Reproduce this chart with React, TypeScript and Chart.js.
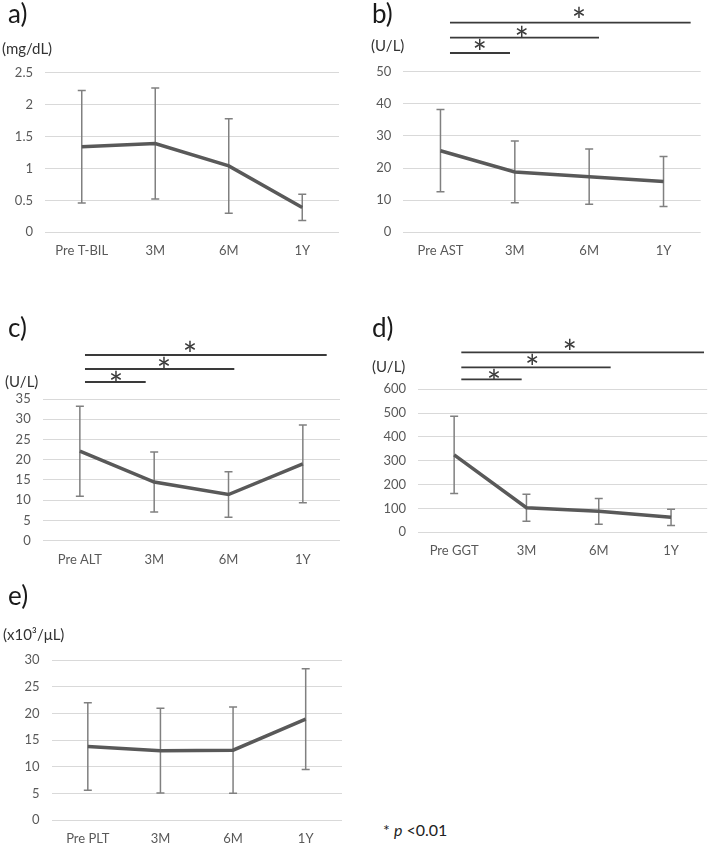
import React, { useEffect, useRef } from "react";
import { Chart, registerables } from "chart.js";

Chart.register(...registerables);

// ---------------- data ----------------
const TBIL_LABELS = ["Pre T-BIL", "3M", "6M", "1Y"];
const TBIL_MEAN = [1.34, 1.39, 1.04, 0.39];
const TBIL_SD = [0.88, 0.87, 0.74, 0.205];
const TBIL_TICKS = [0, 0.5, 1, 1.5, 2, 2.5];
const TBIL_SIG: number[][] = [];

const AST_LABELS = ["Pre AST", "3M", "6M", "1Y"];
const AST_MEAN = [25.4, 18.8, 17.3, 15.8];
const AST_SD = [12.8, 9.6, 8.6, 7.8];
const AST_TICKS = [0, 10, 20, 30, 40, 50];
const AST_SIG = [[0, 1], [0, 2], [0, 3]];

const ALT_LABELS = ["Pre ALT", "3M", "6M", "1Y"];
const ALT_MEAN = [22.1, 14.5, 11.4, 19.0];
const ALT_SD = [11.1, 7.4, 5.6, 9.6];
const ALT_TICKS = [0, 5, 10, 15, 20, 25, 30, 35];
const ALT_SIG = [[0, 1], [0, 2], [0, 3]];

const GGT_LABELS = ["Pre GGT", "3M", "6M", "1Y"];
const GGT_MEAN = [325, 103, 88, 63];
const GGT_SD = [162, 57, 54, 34];
const GGT_TICKS = [0, 100, 200, 300, 400, 500, 600];
const GGT_SIG = [[0, 1], [0, 2], [0, 3]];

const PLT_LABELS = ["Pre PLT", "3M", "6M", "1Y"];
const PLT_MEAN = [13.8, 13.0, 13.1, 18.9];
const PLT_SD = [8.2, 7.95, 8.1, 9.45];
const PLT_TICKS = [0, 5, 10, 15, 20, 25, 30];
const PLT_SIG: number[][] = [];

const FOOTNOTE_MARK = "* ";
const FOOTNOTE_P = "p";
const FOOTNOTE_REST = " <0.01";

// ---------------- style ----------------
const FONT = "Lato, 'Open Sans', 'DejaVu Sans', sans-serif";
const LINE_COLOR = "#595959";
const ERR_COLOR = "#808080";
const GRID_COLOR = "#d9d9d9";
const TICK_COLOR = "#595959";
const SIG_COLOR = "#3a3a3a";
const TEXT_COLOR = "#1a1a1a";

type SigGeom = { dy: number; start: number; endShift: number; star: number; starDy: number };

type PanelSpec = {
  letter: string;
  unit: string;
  labels: string[];
  mean: number[];
  sd: number[];
  yTicks: number[];
  sig: number[][];
  box: { left: number; top: number; width: number; height: number };
  area: { left: number; top: number; right: number; bottom: number };
  xAxisH: number;
  letterPos: { x: number; y: number };
  unitPos: { x: number; y: number };
  sigGeom: SigGeom[];
};

const PANELS: PanelSpec[] = [
  {
    letter: "a)",
    unit: "(mg/dL)",
    labels: TBIL_LABELS,
    mean: TBIL_MEAN,
    sd: TBIL_SD,
    yTicks: TBIL_TICKS,
    sig: TBIL_SIG,
    box: { left: 0, top: 0, width: 354, height: 270 },
    area: { left: 45, top: 72.7, right: 339, bottom: 232.3 },
    xAxisH: 30,
    letterPos: { x: 8, y: 22.7 },
    unitPos: { x: 2, y: 49 },
    sigGeom: [],
  },
  {
    letter: "b)",
    unit: "(U/L)",
    labels: AST_LABELS,
    mean: AST_MEAN,
    sd: AST_SD,
    yTicks: AST_TICKS,
    sig: AST_SIG,
    box: { left: 354, top: 0, width: 354, height: 270 },
    area: { left: 49.3, top: 71.7, right: 346.7, bottom: 232.3 },
    xAxisH: 30,
    letterPos: { x: 18, y: 23.3 },
    unitPos: { x: 17, y: 46.5 },
    sigGeom: [
      { dy: 18.7, start: 0.128, endShift: -0.065, star: 0.527, starDy: 8.7 },
      { dy: 34, start: 0.128, endShift: 0.132, star: 1.092, starDy: 6.7 },
      { dy: 49, start: 0.128, endShift: 0.365, star: 1.863, starDy: 11 },
    ],
  },
  {
    letter: "c)",
    unit: "(U/L)",
    labels: ALT_LABELS,
    mean: ALT_MEAN,
    sd: ALT_SD,
    yTicks: ALT_TICKS,
    sig: ALT_SIG,
    box: { left: 0, top: 300, width: 354, height: 280 },
    area: { left: 42.7, top: 99, right: 340, bottom: 240.7 },
    xAxisH: 30,
    letterPos: { x: 8, y: 36.7 },
    unitPos: { x: 5, y: 82 },
    sigGeom: [
      { dy: 17, start: 0.069, endShift: -0.114, star: 0.486, starDy: 6 },
      { dy: 30, start: 0.069, endShift: 0.078, star: 1.133, starDy: 7.3 },
      { dy: 44, start: 0.069, endShift: 0.321, star: 1.483, starDy: 9 },
    ],
  },
  {
    letter: "d)",
    unit: "(U/L)",
    labels: GGT_LABELS,
    mean: GGT_MEAN,
    sd: GGT_SD,
    yTicks: GGT_TICKS,
    sig: GGT_SIG,
    box: { left: 354, top: 300, width: 354, height: 280 },
    area: { left: 64, top: 89.3, right: 353.2, bottom: 232.3 },
    xAxisH: 30,
    letterPos: { x: 18, y: 36.7 },
    unitPos: { x: 18, y: 67.5 },
    sigGeom: [
      { dy: 10, start: 0.099, endShift: -0.066, star: 0.551, starDy: 5 },
      { dy: 22, start: 0.099, endShift: 0.165, star: 1.081, starDy: 8 },
      { dy: 37, start: 0.099, endShift: 0.456, star: 1.598, starDy: 8 },
    ],
  },
  {
    letter: "e)",
    unit: "(x10\u00b3/\u03bcL)",
    labels: PLT_LABELS,
    mean: PLT_MEAN,
    sd: PLT_SD,
    yTicks: PLT_TICKS,
    sig: PLT_SIG,
    box: { left: 0, top: 580, width: 354, height: 265 },
    area: { left: 51.5, top: 80, right: 342, bottom: 240 },
    xAxisH: 25,
    letterPos: { x: 8, y: 25 },
    unitPos: { x: 3, y: 55 },
    sigGeom: [],
  },
];

function makeOverlay(spec: PanelSpec) {
  return {
    id: "overlay",
    beforeDatasetsDraw(chart: any) {
      const ctx: CanvasRenderingContext2D = chart.ctx;
      const xs = chart.scales.x;
      const ys = chart.scales.y;
      ctx.save();
      ctx.strokeStyle = ERR_COLOR;
      ctx.lineWidth = 1.5;
      spec.mean.forEach((m, i) => {
        const x = xs.getPixelForValue(i);
        const yt = ys.getPixelForValue(m + spec.sd[i]);
        const yb = ys.getPixelForValue(m - spec.sd[i]);
        ctx.beginPath();
        ctx.moveTo(x, yt);
        ctx.lineTo(x, yb);
        ctx.moveTo(x - 4, yt);
        ctx.lineTo(x + 4, yt);
        ctx.moveTo(x - 4, yb);
        ctx.lineTo(x + 4, yb);
        ctx.stroke();
      });
      ctx.restore();
    },
    afterDraw(chart: any) {
      const ctx: CanvasRenderingContext2D = chart.ctx;
      const xs = chart.scales.x;
      const top = chart.chartArea.top;
      ctx.save();
      // panel letter
      ctx.fillStyle = TEXT_COLOR;
      ctx.textAlign = "left";
      ctx.textBaseline = "alphabetic";
      ctx.font = `26px ${FONT}`;
      ctx.fillText(spec.letter, spec.letterPos.x, spec.letterPos.y);
      // unit
      ctx.font = `15px ${FONT}`;
      ctx.fillStyle = "#333333";
      ctx.textBaseline = "middle";
      ctx.fillText(spec.unit, spec.unitPos.x, spec.unitPos.y);
      // significance bars
      ctx.strokeStyle = SIG_COLOR;
      ctx.lineWidth = 1.8;
      ctx.fillStyle = SIG_COLOR;
      ctx.font = `34px ${FONT}`;
      ctx.textAlign = "center";
      ctx.textBaseline = "alphabetic";
      const mt = ctx.measureText("*");
      const asc = mt.actualBoundingBoxAscent;
      const desc = mt.actualBoundingBoxDescent;
      spec.sig.forEach((pair, k) => {
        const g = spec.sigGeom[k];
        const y = top - g.dy;
        const x0 = xs.getPixelForValue(pair[0] + g.start);
        const x1 = xs.getPixelForValue(pair[1] + g.endShift);
        ctx.beginPath();
        ctx.moveTo(x0, y);
        ctx.lineTo(x1, y);
        ctx.stroke();
        const cx = xs.getPixelForValue(g.star);
        const cy = y - g.starDy;
        ctx.fillText("*", cx, cy + (asc - desc) / 2);
      });
      ctx.restore();
    },
  };
}

function Panel({ spec }: { spec: PanelSpec }) {
  const ref = useRef<HTMLCanvasElement>(null);
  useEffect(() => {
    const canvas = ref.current;
    if (!canvas) return;
    const { area, box, xAxisH } = spec;
    const tickFont = { family: FONT, size: 13 };
    const chart = new Chart(canvas, {
      type: "line",
      data: {
        labels: spec.labels,
        datasets: [
          {
            data: spec.mean,
            borderColor: LINE_COLOR,
            borderWidth: 3.5,
            pointRadius: 0,
            tension: 0,
            fill: false,
          },
        ],
      },
      options: {
        responsive: false,
        animation: false,
        events: [],
        layout: {
          padding: {
            left: 0,
            top: area.top,
            right: box.width - area.right,
            bottom: Math.max(0, box.height - area.bottom - xAxisH),
          },
        },
        plugins: { legend: { display: false }, tooltip: { enabled: false } },
        scales: {
          x: {
            type: "category",
            offset: true,
            grid: { display: false, drawTicks: false },
            border: { display: false },
            ticks: { font: tickFont, color: TICK_COLOR, padding: 11, maxRotation: 0, autoSkip: false },
            afterFit: (s: any) => {
              s.height = xAxisH;
            },
          },
          y: {
            type: "linear",
            min: spec.yTicks[0],
            max: spec.yTicks[spec.yTicks.length - 1],
            grid: { color: GRID_COLOR, lineWidth: 1, drawTicks: false },
            border: { display: false },
            ticks: {
              font: tickFont,
              color: TICK_COLOR,
              padding: 12,
              callback: (v: any) => String(v),
            },
            afterBuildTicks: (s: any) => {
              s.ticks = spec.yTicks.map((v) => ({ value: v }));
            },
            afterFit: (s: any) => {
              s.width = area.left;
            },
          },
        },
      } as any,
      plugins: [makeOverlay(spec)],
    });
    return () => chart.destroy();
  }, [spec]);
  const { box } = spec;
  return (
    <canvas
      ref={ref}
      width={box.width}
      height={box.height}
      style={{ position: "absolute", left: box.left, top: box.top, width: box.width, height: box.height }}
    />
  );
}

export default function App() {
  return (
    <div style={{ position: "absolute", left: 0, top: 0, width: 708, height: 845, background: "#fff", overflow: "hidden" }}>
      {PANELS.map((p) => (
        <Panel key={p.letter} spec={p} />
      ))}
      <div
        style={{
          position: "absolute",
          left: 383,
          top: 822,
          fontFamily: FONT,
          fontSize: 16,
          lineHeight: "16px",
          color: "#222",
          whiteSpace: "nowrap",
        }}
      >
        {FOOTNOTE_MARK}
        <i>{FOOTNOTE_P}</i>
        {FOOTNOTE_REST}
      </div>
    </div>
  );
}
